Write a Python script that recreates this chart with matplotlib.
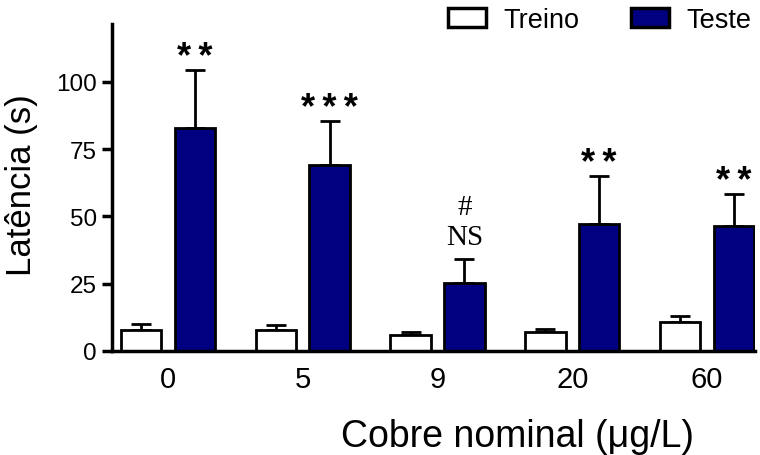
import matplotlib
matplotlib.use("Agg")
import matplotlib.pyplot as plt
import numpy as np

categories = ["0", "5", "9", "20", "60"]
treino = [7.8, 7.8, 6.0, 7.0, 10.8]
treino_err = [2.2, 1.9, 1.0, 1.2, 2.2]
teste = [83.0, 69.0, 25.3, 47.2, 46.5]
teste_err = [21.5, 16.5, 8.9, 17.8, 11.9]
annotations = ["**", "***", "#\nNS", "**", "**"]

plt.rcParams['font.family'] = ['Liberation Sans', 'DejaVu Sans']

fig = plt.figure(figsize=(7.6, 4.56), dpi=100)
ax = fig.add_axes([112/760, 104/456, 643/760, 327/456])

x = np.arange(len(categories))
w = 0.30
off = 0.2
ax.bar(x - off, treino, w, color='white', edgecolor='black', linewidth=2, label='Treino', zorder=2)
ax.bar(x + off, teste, w, color='#000080', edgecolor='black', linewidth=2, label='Teste', zorder=2)
ax.errorbar(x - off, treino, yerr=[np.zeros(len(treino)), treino_err], fmt='none',
            ecolor='black', elinewidth=2, capsize=7, capthick=2, zorder=1)
ax.errorbar(x + off, teste, yerr=[np.zeros(len(teste)), teste_err], fmt='none',
            ecolor='black', elinewidth=2, capsize=7, capthick=2, zorder=1)

for i, (v, e, a) in enumerate(zip(teste, teste_err, annotations)):
    top = v + e
    if a.startswith('#'):
        ax.text(x[i] + off, top + 5.5, "NS", ha='center', va='baseline', fontsize=21,
                family='Liberation Serif')
        ax.text(x[i] + off, top + 16.7, "#", ha='center', va='baseline', fontsize=21,
                family='Liberation Serif')
    else:
        ax.text(x[i] + off, top + 1.0, "\u2009".join(a), ha='center', va='baseline',
                fontsize=26, fontweight='bold', family=['Liberation Sans', 'DejaVu Sans'])

ax.set_xlim(-0.415, 4.356)
ax.set_ylim(0, 121.5)
ax.set_yticks([0, 25, 50, 75, 100])
ax.set_xticks(x)
ax.set_xticklabels(categories)
ax.tick_params(axis='x', length=0, labelsize=21, pad=10)
ax.tick_params(axis='y', length=7, width=2.5, labelsize=17.5, direction='out', pad=4)
for s in ['top', 'right']:
    ax.spines[s].set_visible(False)
for s in ['left', 'bottom']:
    ax.spines[s].set_linewidth(2.5)

ax.set_ylabel("Latência (s)", fontsize=25)
ax.yaxis.set_label_coords(-0.14, 0.51)
ax.yaxis.label.set_va('center')
ax.set_xlabel("Cobre nominal (μg/L)", fontsize=27)
ax.xaxis.set_label_coords(0.63, -0.26)
ax.xaxis.label.set_va('center')

leg = ax.legend(loc='upper left', bbox_to_anchor=(448/760, 1 - 8/456), bbox_transform=fig.transFigure,
                ncol=2, frameon=False, fontsize=19.5, handlelength=1.4, handleheight=0.65,
                columnspacing=1.9, handletextpad=0.65, borderpad=0, borderaxespad=0)
for p in leg.get_patches():
    p.set_linewidth(2.5)

fig.savefig("out.png", dpi=100)
